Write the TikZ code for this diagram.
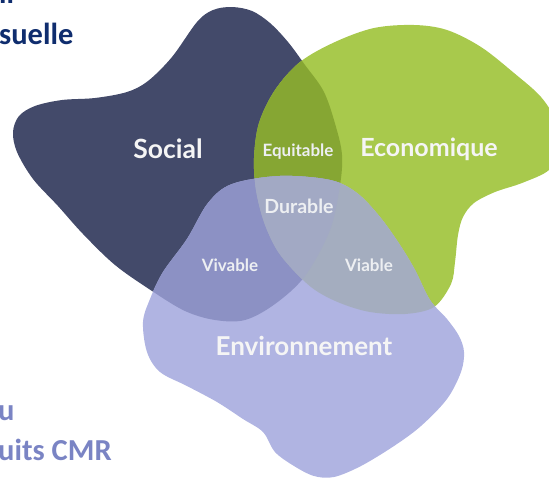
\documentclass[tikz,border=0pt]{standalone}
\usepackage{fontspec}
\setmainfont{Lato}
\newfontfamily\calib{Carlito}
\definecolor{socialc}{HTML}{434A6A}
\definecolor{ecoc}{HTML}{A8C94C}
\definecolor{envc}{HTML}{B0B4E2}
\definecolor{vivc}{HTML}{8C91C4}
\definecolor{equc}{HTML}{86A633}
\definecolor{durc}{HTML}{A2A9C4}
\definecolor{viac}{HTML}{A4ADBF}
\definecolor{navytxt}{HTML}{0F2D6E}
\definecolor{lavtxt}{HTML}{7A84C4}
\definecolor{labc}{HTML}{F5F5F5}
\definecolor{smallc}{HTML}{EDEFF2}
\tikzset{
  socialpath/.style={insert path={plot[smooth cycle,tension=0.55] coordinates{
    (232,7) (252,11) (270,23) (288,42) (305,65) (324,92) (336,127) (342,155)
    (340,185) (330,230) (305,276) (275,304) (245,320) (215,320) (185,311)
    (152,291) (115,265) (83,234) (58,206) (33,179) (17,152) (13,132) (19,116)
    (35,106) (62,100) (95,98) (127,92) (148,81) (172,57) (197,22) (213,10)}}},
  ecopath/.style={insert path={plot[smooth cycle,tension=0.55] coordinates{
    (414,25) (447,30) (481,47) (514,73) (541,97) (556,122) (558,150) (549,170)
    (522,183) (495,192) (474,203) (463,217) (458,235) (455,262) (451,284)
    (434,307) (405,314) (370,312) (340,303) (315,290) (295,272) (277,250)
    (264,222) (256,190) (254,158) (259,123) (275,90) (300,62) (335,42) (374,28)}}},
  envpath/.style={insert path={plot[smooth cycle,tension=0.55] coordinates{
    (280,176) (330,180) (357,193) (380,217) (400,245) (415,270) (430,300)
    (447,319) (459,336) (464,352) (461,372) (447,399) (421,426) (394,446)
    (361,466) (334,477) (314,476) (294,466) (275,452) (263,432) (243,419)
    (217,402) (187,386) (160,372) (147,352) (143,322) (150,299) (163,272)
    (187,239) (208,203) (232,184)}}},
  biglab/.style={text=labc,font=\bfseries\fontsize{25}{29}\selectfont,inner sep=0pt},
  smalllab/.style={text=smallc,font=\bfseries\fontsize{17}{20}\selectfont,inner sep=0pt},
  sidetxt/.style={anchor=base west,inner sep=0pt,font=\calib\bfseries\fontsize{30.5}{36}\selectfont}
}
\begin{document}
\begin{tikzpicture}[x=1pt,y=-1pt]
\useasboundingbox (0,0) rectangle (549,479);
% blobs
\fill[socialc, socialpath];
\fill[ecoc, ecopath];
\begin{scope}
  \clip[socialpath];
  \fill[equc, ecopath];
\end{scope}
\fill[envc, envpath];
\begin{scope}
  \clip[envpath];
  \fill[vivc, socialpath];
  \fill[viac, ecopath];
  \clip[socialpath];
  \fill[durc, ecopath];
\end{scope}
% labels
\node[biglab,font=\bfseries\fontsize{26.5}{30}\selectfont] (social) at (168,149) {Social};
\node[biglab] (eco) at (429,149) {Economique};
\node[biglab,font=\bfseries\fontsize{26}{30}\selectfont] (env) at (304,346) {Environnement};
\node[smalllab] (equ) at (298,152) {Equitable};
\node[smalllab,font=\bfseries\fontsize{19.5}{23}\selectfont] (dur) at (299,206) {Durable};
\node[smalllab] (viv) at (230,265) {Vivable};
\node[smalllab] (via) at (369,265) {Viable};
% side texts
\node[sidetxt,text=navytxt] (top0) at (-1,3) {ll};
\node[sidetxt,text=navytxt] (top1) at (-1,44) {suelle};
\node[sidetxt,text=lavtxt] (bot1) at (-2,420) {u};
\node[sidetxt,text=lavtxt] (bot2) at (-2,460) {uits CMR};
\end{tikzpicture}
\end{document}
